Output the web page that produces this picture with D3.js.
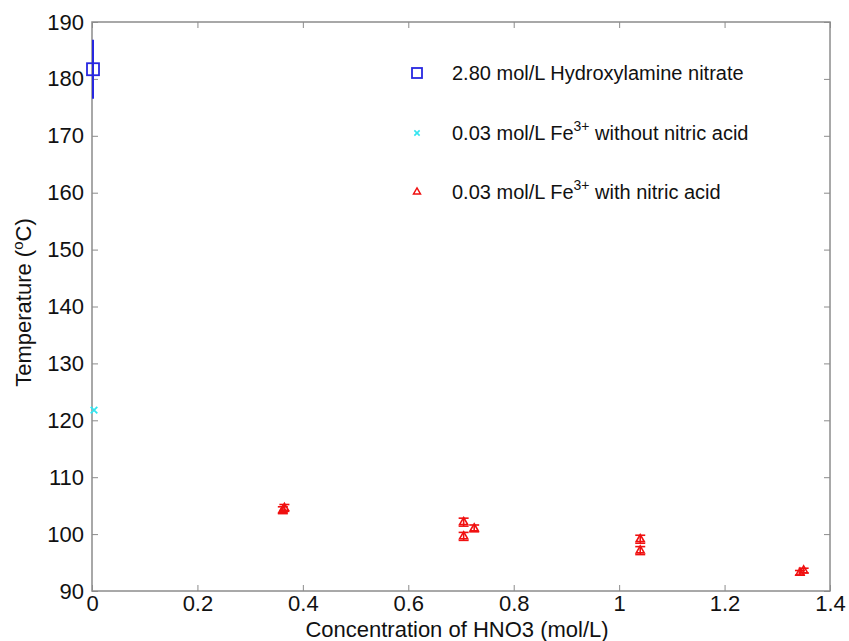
<!DOCTYPE html>
<html><head><meta charset="utf-8">
<script src="https://cdn.jsdelivr.net/npm/d3@7"></script>
<style>body{margin:0;background:#fff}svg{display:block}</style>
</head><body>
<script>
// Data
const hanX = [0.0];
const hanY = [181.7];
const hanErr = [5.2];
const feNoAcidX = [0.0];
const feNoAcidY = [121.8];
const feAcidX = [0.362, 0.365, 0.705, 0.725, 0.705, 1.04, 1.04, 1.343, 1.35];
const feAcidY = [104.2, 104.6, 102.1, 101.0, 99.6, 99.1, 97.1, 93.2, 93.6];
const feAcidErr = [0.6, 0.6, 0.7, 0.6, 0.7, 0.7, 0.7, 0.4, 0.4];
const xTicks = [0, 0.2, 0.4, 0.6, 0.8, 1, 1.2, 1.4];
const yTicks = [90, 100, 110, 120, 130, 140, 150, 160, 170, 180, 190];
const legendLabels = ["2.80 mol/L Hydroxylamine nitrate", "0.03 mol/L Fe", "0.03 mol/L Fe"];

const W = 849, H = 641;
const m = {l: 92, r: 830, t: 22, b: 591};
const svg = d3.select("body").append("svg").attr("width", W).attr("height", H);
const x = d3.scaleLinear().domain([0, 1.4]).range([m.l, m.r]);
const y = d3.scaleLinear().domain([90, 190]).range([m.b, m.t]);
const axisCol = "#8c8c8c";
const tickFont = "'Liberation Sans',Arial,sans-serif";

// frame
svg.append("rect").attr("x", m.l).attr("y", m.t).attr("width", m.r - m.l).attr("height", m.b - m.t)
  .attr("fill", "none").attr("stroke", axisCol).attr("stroke-width", 1.5);

// axes
const xb = svg.append("g").attr("transform", `translate(0,${m.b})`)
  .call(d3.axisBottom(x).tickValues(xTicks).tickSizeInner(-6).tickSizeOuter(0).tickPadding(4).tickFormat(d3.format("~g")));
const xt = svg.append("g").attr("transform", `translate(0,${m.t})`)
  .call(d3.axisTop(x).tickValues(xTicks).tickSizeInner(-6).tickSizeOuter(0).tickFormat(""));
const yl = svg.append("g").attr("transform", `translate(${m.l},0)`)
  .call(d3.axisLeft(y).tickValues(yTicks).tickSizeInner(-6).tickSizeOuter(0).tickPadding(8));
const yr = svg.append("g").attr("transform", `translate(${m.r},0)`)
  .call(d3.axisRight(y).tickValues(yTicks).tickSizeInner(-6).tickSizeOuter(0).tickFormat(""));
[xb, xt, yl, yr].forEach(g => {
  g.select(".domain").remove();
  g.selectAll(".tick line").attr("stroke", axisCol).attr("stroke-width", 1);
  g.selectAll("text").attr("fill", "#111").style("font-family", tickFont).style("font-size", "22px");
});
xb.selectAll("text").attr("dy", "0.71em");

// axis labels
svg.append("text").attr("x", (m.l + m.r) / 2 - 4).attr("y", 637).attr("text-anchor", "middle")
  .style("font-family", tickFont).style("font-size", "22px").attr("fill", "#111")
  .text("Concentration of HNO3 (mol/L)");
const yLab = svg.append("text").attr("transform", `translate(31,${(m.t + m.b) / 2 - 4}) rotate(-90)`)
  .attr("text-anchor", "middle").style("font-family", tickFont).style("font-size", "22px").attr("fill", "#111");
yLab.append("tspan").text("Temperature (");
yLab.append("tspan").attr("dy", "-8").style("font-size", "15px").text("o");
yLab.append("tspan").attr("dy", "8").text("C)");

const blue = "#2727e0", cyan = "#33e5f0", red = "#f01010";

// HAN error bar + square
hanX.forEach((v, i) => {
  svg.append("line").attr("x1", x(v) + 1).attr("x2", x(v) + 1).attr("y1", y(hanY[i] + hanErr[i])).attr("y2", y(hanY[i] - hanErr[i]))
    .attr("stroke", blue).attr("stroke-width", 2);
  svg.append("rect").attr("x", x(v) + 1 - 6).attr("y", y(hanY[i]) - 6).attr("width", 12).attr("height", 12)
    .attr("fill", "none").attr("stroke", blue).attr("stroke-width", 1.8);
});

// cyan x
feNoAcidX.forEach((v, i) => {
  svg.append("path").attr("d", d3.symbol(d3.symbolTimes, 30)())
    .attr("transform", `translate(${x(v) + 2},${y(feNoAcidY[i])})`).attr("fill", "none").attr("stroke", cyan).attr("stroke-width", 1.8);
});

// red error bars + triangles
feAcidX.forEach((v, i) => {
  const cx = x(v), cy = y(feAcidY[i]), e = feAcidErr[i];
  const g = svg.append("g").attr("stroke", red).attr("stroke-width", 1.6).attr("fill", "none");
  g.append("line").attr("x1", cx).attr("x2", cx).attr("y1", y(feAcidY[i] + e)).attr("y2", y(feAcidY[i] - e));
  g.append("line").attr("x1", cx - 5).attr("x2", cx + 5).attr("y1", y(feAcidY[i] + e)).attr("y2", y(feAcidY[i] + e));
  g.append("line").attr("x1", cx - 5).attr("x2", cx + 5).attr("y1", y(feAcidY[i] - e)).attr("y2", y(feAcidY[i] - e));
  g.append("path").attr("d", d3.symbol(d3.symbolTriangle, 28)()).attr("transform", `translate(${cx},${cy})`);
});

// legend
const legY = [73, 133, 192];
const lf = "'Liberation Sans',Arial,sans-serif";
const lg = svg.append("g");
lg.append("rect").attr("x", 412).attr("y", legY[0] - 5).attr("width", 10).attr("height", 10)
  .attr("fill", "none").attr("stroke", blue).attr("stroke-width", 1.8);
lg.append("path").attr("d", d3.symbol(d3.symbolTimes, 20)()).attr("transform", `translate(417,${legY[1]})`)
  .attr("fill", "none").attr("stroke", cyan).attr("stroke-width", 1.6);
lg.append("path").attr("d", d3.symbol(d3.symbolTriangle, 22)()).attr("transform", `translate(417,${legY[2]})`)
  .attr("fill", "none").attr("stroke", red).attr("stroke-width", 1.4);
legY.forEach((ly, i) => {
  const t = lg.append("text").attr("x", 452).attr("y", ly + 7).style("font-family", lf).style("font-size", "20px").attr("fill", "#111");
  t.append("tspan").text(legendLabels[i]);
  if (i > 0) {
    t.append("tspan").attr("dy", "-9").style("font-size", "14px").text("3+");
    t.append("tspan").attr("dy", "9").text(i === 1 ? " without nitric acid" : " with nitric acid");
  }
});
</script>
</body></html>
